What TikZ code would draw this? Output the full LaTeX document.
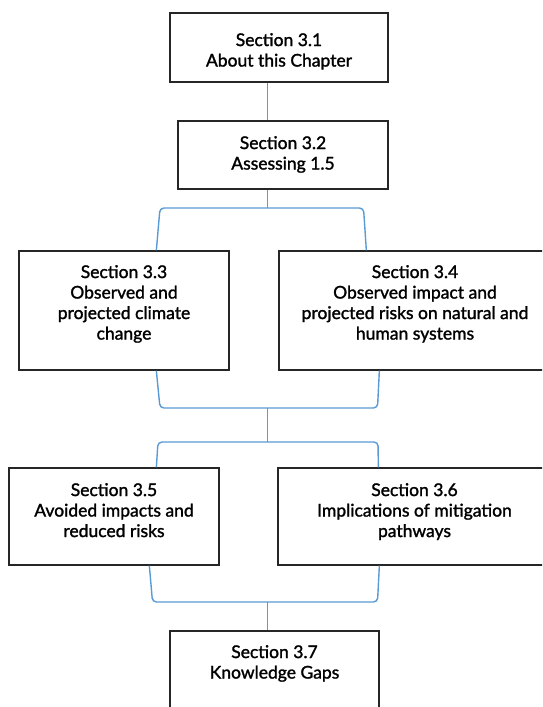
\documentclass[tikz,border=0pt]{standalone}
\usepackage{fontspec}
\setmainfont{Lato}[FakeBold=1.5]
\usetikzlibrary{calc}
\definecolor{linkblue}{HTML}{5B9BD5}
\definecolor{boxline}{HTML}{262626}
\begin{document}
\begin{tikzpicture}[x=1pt,y=-1pt,
  box/.style={draw=boxline,line width=1.3pt,rectangle,inner sep=0pt},
  txt/.style={anchor=north,inner sep=0pt,align=center,text=black,
    font=\fontsize{17.5}{20.5}\selectfont},
  link/.style={draw=linkblue,line width=1.4pt},
  bracket/.style={link,rounded corners=4pt}]
\clip (0,0) rectangle (542,707);
\fill[white] (0,0) rectangle (542,707);
% boxes
\node[box,minimum width=218pt,minimum height=69pt] (b31) at (279,47.5) {};
\node[box,minimum width=210pt,minimum height=68pt] (b32) at (283,155) {};
\node[box,minimum width=210pt,minimum height=119pt] (b33) at (124,310.5) {};
\node[box,minimum width=272pt,minimum height=119pt] (b34) at (415,310.5) {};
\node[box,minimum width=210pt,minimum height=97pt] (b35) at (114,516.5) {};
\node[box,minimum width=273pt,minimum height=97pt] (b36) at (414.5,516.5) {};
\node[box,minimum width=209pt,minimum height=100pt] (b37) at (274.5,681) {};
% texts
\node[txt] (t31) at (279,33) {Section 3.1\\About this Chapter};
\node[txt] (t32) at (283,136) {Section 3.2\\Assessing 1.5};
\node[txt] (t33) at (124,265) {Section 3.3\\Observed and\\projected climate\\change};
\node[txt] (t34) at (415,265) {Section 3.4\\Observed impact and\\projected risks on natural and\\human systems};
\node[txt] (t35) at (114,483) {Section 3.5\\Avoided impacts and\\reduced risks};
\node[txt] (t36) at (414.5,483) {Section 3.6\\Implications of mitigation\\pathways};
\node[txt] (t37) at (274.5,645) {Section 3.7\\Knowledge Gaps};
% spine coordinate
\coordinate (sx) at (267.5,0);
% junction coordinates
\coordinate (j1) at (267.5,208);
\coordinate (j1l) at (160,208);
\coordinate (j1r) at (363.5,208);
\coordinate (j2) at (267.5,408);
\coordinate (j2l) at (160,408);
\coordinate (j2r) at (377.5,408);
\coordinate (j3) at (267.5,442);
\coordinate (j3l) at (158,442);
\coordinate (j3r) at (378,442);
\coordinate (j4) at (267.5,602);
\coordinate (j4l) at (152.5,602);
\coordinate (j4r) at (377.5,602);
% connectors
\draw[link] (b31.south -| sx) -- (b32.north -| sx);
\draw[link] (b32.south -| sx) -- (j1);
\draw[bracket] ($(b33.north west)+(138,0)$) -- (j1l) -- (j1r) -- ($(b34.north west)+(88,0)$);
\draw[bracket] ($(b33.south west)+(138,0)$) -- (j2l) -- (j2r) -- ($(b34.south west)+(101,0)$);
\draw[link] (j2) -- (j3);
\draw[bracket] ($(b35.north west)+(148,0)$) -- (j3l) -- (j3r) -- ($(b36.north west)+(101,0)$);
\draw[bracket] ($(b35.south west)+(141,0)$) -- (j4l) -- (j4r) -- ($(b36.south west)+(102,0)$);
\draw[link] (j4) -- (b37.north -| sx);
\end{tikzpicture}
\end{document}
